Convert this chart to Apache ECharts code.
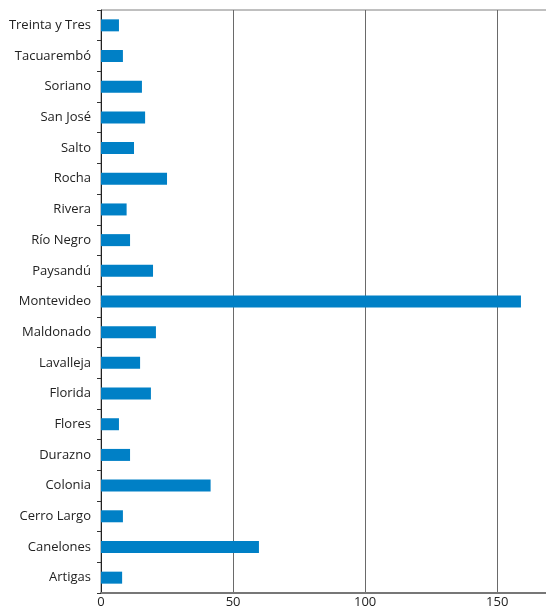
<!DOCTYPE html>
<html>
<head>
<meta charset="utf-8">
<script src="https://cdn.jsdelivr.net/npm/echarts@6/dist/echarts.min.js"></script>
<style>html,body{margin:0;padding:0;background:#fff;}#c{width:546px;height:610px;}</style>
</head>
<body>
<div id="c"></div>
<script>
const categories = ["Artigas","Canelones","Cerro Largo","Colonia","Durazno","Flores","Florida","Lavalleja","Maldonado","Montevideo","Paysandú","Río Negro","Rivera","Rocha","Salto","San José","Soriano","Tacuarembó","Treinta y Tres"];
const values = [8.0, 59.8, 8.3, 41.5, 11.0, 6.8, 18.9, 14.8, 20.8, 159.0, 19.7, 11.0, 9.7, 25.0, 12.5, 16.7, 15.5, 8.3, 6.8];
const xTicks = [0, 50, 100, 150];

const chart = echarts.init(document.getElementById('c'), null, {renderer: 'canvas'});
chart.setOption({
  animation: false,
  grid: {left: 101, top: 10, bottom: 17, width: 449, outerBoundsMode: 'none', containLabel: false, show: true, borderColor: '#808080', borderWidth: 1, backgroundColor: 'transparent'},
  xAxis: {
    type: 'value', min: 0, max: 170, interval: 50,
    axisLine: {show: true, lineStyle: {color: '#777', width: 2}},
    axisTick: {show: false},
    splitLine: {show: true, lineStyle: {color: '#6a6a6a', width: 1}},
    axisLabel: {
      color: '#222', fontFamily: 'Open Sans', fontSize: 13, margin: 3,
      formatter: v => xTicks.includes(v) ? String(v) : ''
    }
  },
  yAxis: {
    type: 'category', data: categories,
    axisLine: {show: true, lineStyle: {color: '#222', width: 1}},
    axisTick: {show: true, length: 4, lineStyle: {color: '#333'}},
    splitLine: {show: false},
    axisLabel: {color: '#222', fontFamily: 'Open Sans', fontSize: 13, margin: 10}
  },
  series: [{
    type: 'bar', data: values, barWidth: 12,
    itemStyle: {color: '#0080c6'}
  }]
});
</script>
</body>
</html>
